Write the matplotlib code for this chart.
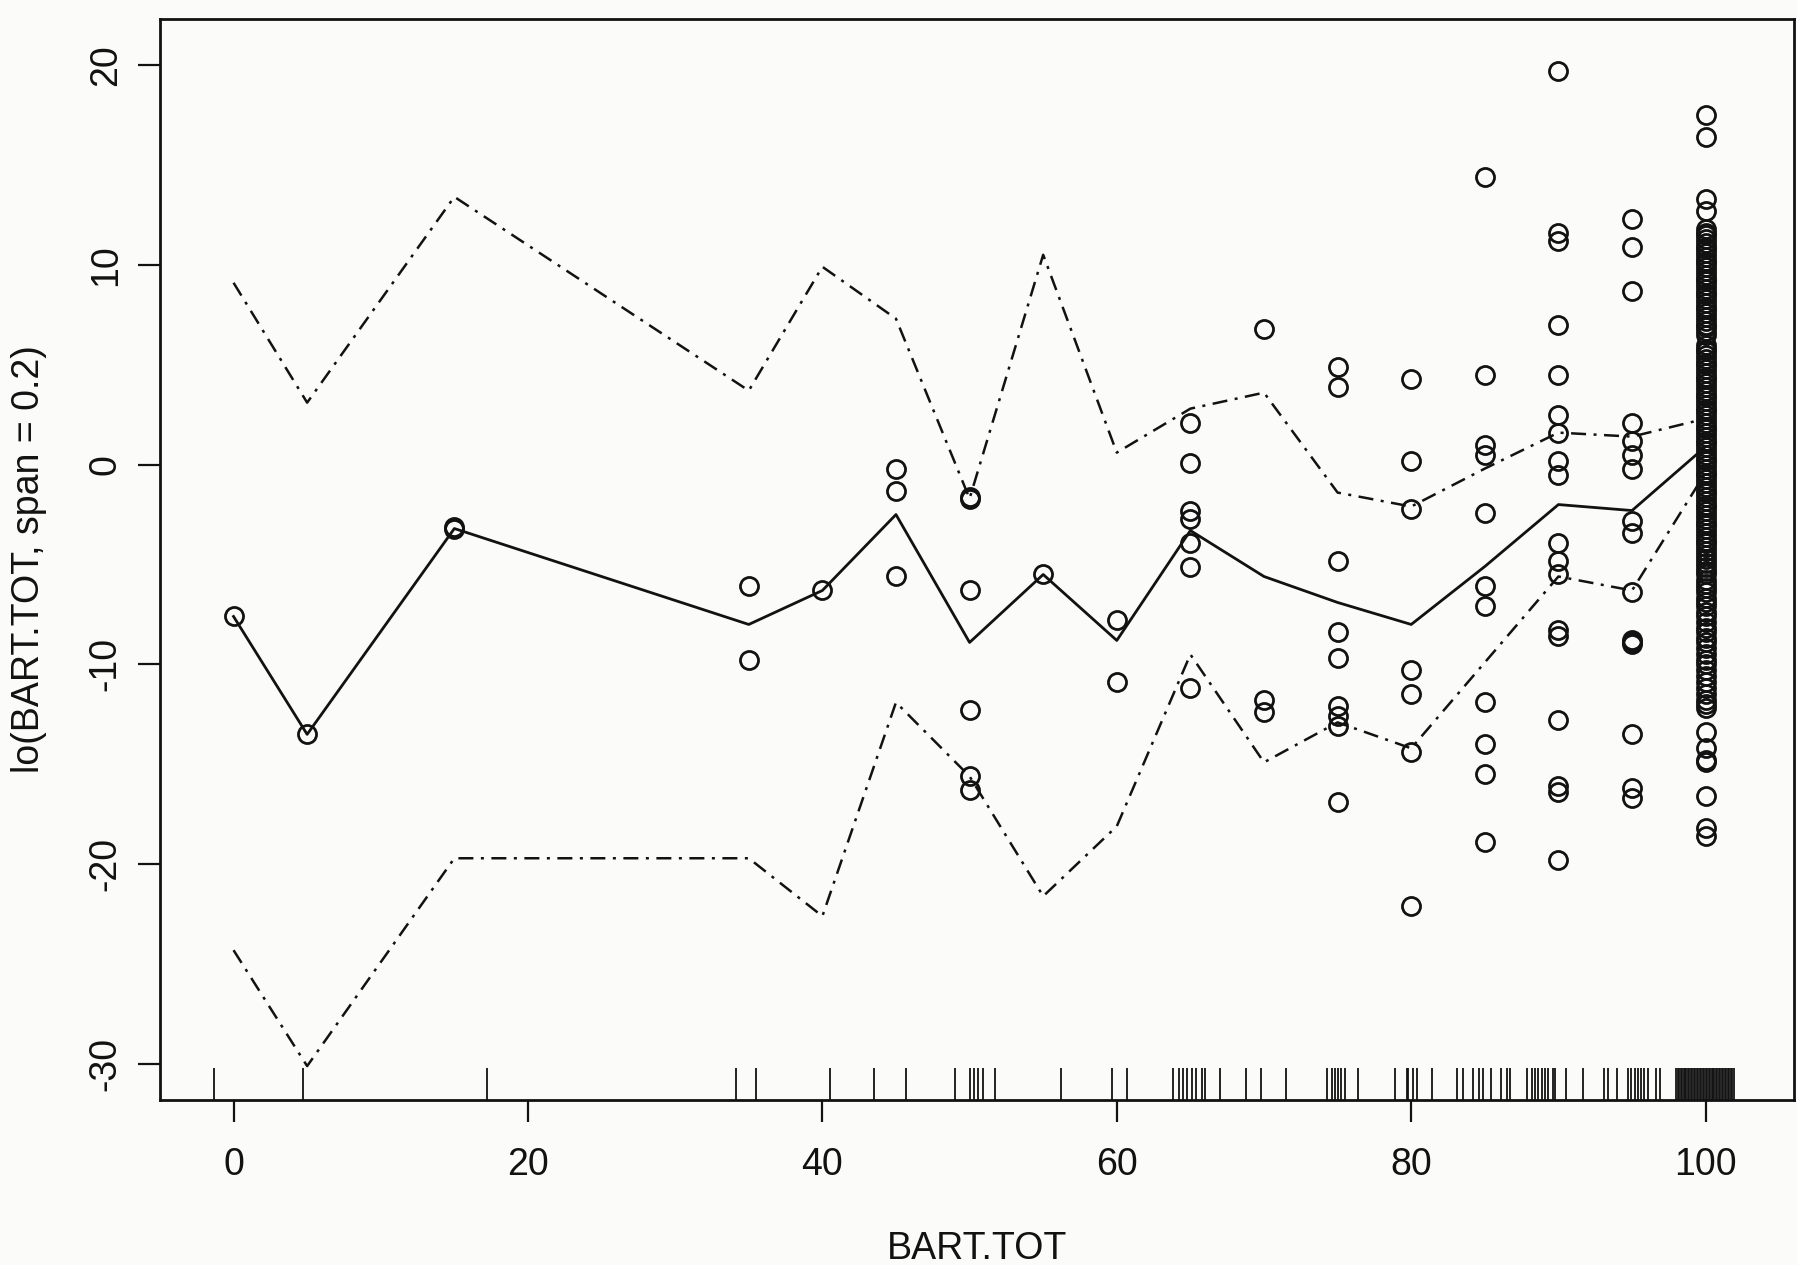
import matplotlib
matplotlib.use("Agg")
import matplotlib.pyplot as plt

plt.rcParams['font.family'] = ['Liberation Sans', 'DejaVu Sans']
plt.rcParams['axes.unicode_minus'] = False

# ---- data ----
levels = [0, 5, 15, 35, 40, 45, 50, 55, 60, 65, 70, 75, 80, 85, 90, 95, 100]
fit    = [-7.6, -13.5, -3.2, -8.0, -6.3, -2.5, -8.9, -5.5, -8.8, -3.3, -5.6, -6.9, -8.0, -5.1, -2.0, -2.3, 0.9]
upper  = [9.1, 3.1, 13.4, 3.7, 9.9, 7.3, -1.7, 10.5, 0.6, 2.8, 3.6, -1.4, -2.1, -0.2, 1.6, 1.4, 2.3]
lower  = [-24.3, -30.1, -19.7, -19.7, -22.6, -11.9, -15.6, -21.6, -18.1, -9.5, -14.9, -12.9, -14.2, -9.9, -5.6, -6.3, -0.4]

res_x0   = [-7.6]
res_x5   = [-13.5]
res_x15  = [-3.2, -3.1]
res_x35  = [-6.1, -9.8]
res_x40  = [-6.3]
res_x45  = [-0.2, -1.3, -5.6]
res_x50  = [-1.6, -1.7, -6.3, -12.3, -15.6, -16.3]
res_x55  = [-5.5]
res_x60  = [-7.8, -10.9]
res_x65  = [2.1, 0.1, -2.3, -2.7, -3.9, -5.1, -11.2]
res_x70  = [6.8, -11.8, -12.4]
res_x75  = [4.9, 3.9, -4.8, -8.4, -9.7, -12.1, -12.6, -13.1, -16.9]
res_x80  = [4.3, 0.2, -2.2, -10.3, -11.5, -14.4, -22.1]
res_x85  = [14.4, 4.5, 1.0, 0.5, -2.4, -6.1, -7.1, -11.9, -14.0, -15.5, -18.9]
res_x90  = [19.7, 11.6, 11.2, 7.0, 4.5, 2.5, 1.6, 0.2, -0.5, -3.9, -4.8, -5.5,
            -8.3, -8.6, -12.8, -16.1, -16.4, -19.8]
res_x95  = [12.3, 10.9, 8.7, 2.1, 1.2, 0.5, -0.2, -2.8, -3.4, -6.4, -8.8, -8.9,
            -9.0, -13.5, -16.2, -16.7]
res_x100 = [17.5, 16.4, 13.3, 12.7,
            11.8, 11.6, 11.5, 11.3, 11.1, 10.9, 10.8, 10.6, 10.4, 10.2, 10.1,
            9.9, 9.7, 9.5, 9.3, 9.2, 9.0, 8.8, 8.6, 8.5, 8.3, 8.1, 7.9, 7.8,
            7.6, 7.4, 7.2, 7.0, 6.9, 6.7, 6.5,
            6.0, 5.8, 5.7, 5.5, 5.3, 5.1, 5.0, 4.8, 4.6, 4.4, 4.3, 4.1, 3.9,
            3.7, 3.5, 3.4, 3.2, 3.0, 2.8, 2.7, 2.5, 2.3, 2.1, 1.9, 1.8, 1.6,
            1.4, 1.2, 1.1, 0.9, 0.7, 0.5, 0.3, 0.2, 0.0, -0.2, -0.4, -0.5,
            -0.7, -0.9, -1.1, -1.3, -1.4, -1.6, -1.8, -2.0, -2.1, -2.3, -2.5,
            -2.7, -2.9, -3.0, -3.2, -3.4, -3.6, -3.8, -3.9, -4.1, -4.3, -4.5,
            -4.7, -4.9, -5.1, -5.3, -5.5, -5.8, -6.0, -6.2, -6.4, -6.7, -6.9,
            -7.1, -7.4, -7.6, -7.9, -8.2, -8.4, -8.7, -8.9, -9.2, -9.5, -9.8,
            -10.0, -10.3, -10.6, -10.9, -11.2, -11.5, -11.8, -12.0, -12.2,
            -13.4, -14.2, -14.8, -14.9, -16.6, -18.2, -18.6]

rug_x = [-1.3, 4.75, 17.2, 34.1, 35.5, 40.5, 43.5, 45.7, 49.0, 50.0, 50.3, 50.6,
         50.9, 51.7, 56.2, 59.7, 60.7, 63.8, 64.2, 64.5, 64.8, 65.1, 65.4, 65.8,
         66.0, 67.0, 68.8, 69.8, 71.5, 74.3, 74.6, 74.8, 75.0, 75.2, 75.5, 76.4,
         78.9, 79.7, 79.8, 80.1, 80.4, 81.4, 83.1, 83.5, 84.2, 84.6, 84.9, 85.4,
         86.1, 86.5, 86.7, 87.9, 88.2, 88.4, 88.6, 88.9, 89.1, 89.3, 89.6, 89.8,
         90.5, 91.7, 93.1, 93.4, 94.0, 94.7, 94.9, 95.2, 95.4, 95.6, 95.8, 96.1,
         96.6, 96.9,
         98.0, 98.1, 98.2, 98.3, 98.4, 98.5, 98.6, 98.7, 98.8, 98.9, 99.0, 99.1,
         99.2, 99.3, 99.4, 99.5, 99.6, 99.7, 99.8, 99.9, 100.0, 100.1, 100.2,
         100.3, 100.4, 100.5, 100.6, 100.7, 100.8, 100.9, 101.0, 101.1, 101.2,
         101.3, 101.4, 101.5, 101.6, 101.7, 101.8, 101.9]

x_ticks = [0, 20, 40, 60, 80, 100]
y_ticks = [-30, -20, -10, 0, 10, 20]
x_label = "BART.TOT"
y_label = "lo(BART.TOT, span = 0.2)"

residuals = [res_x0, res_x5, res_x15, res_x35, res_x40, res_x45, res_x50, res_x55,
             res_x60, res_x65, res_x70, res_x75, res_x80, res_x85, res_x90,
             res_x95, res_x100]

# ---- figure ----
bg = '#fbfcfa'
ink = '#121212'
fig = plt.figure(figsize=(17.97, 12.65), dpi=100, facecolor=bg)
ax = fig.add_axes([0.089, 0.1304, 0.9093, 0.8546], facecolor=bg)

px, py = [], []
for lv, vals in zip(levels, residuals):
    px.extend([lv] * len(vals))
    py.extend(vals)
ax.plot(px, py, linestyle='none', marker='o', ms=13, mfc='none', mec=ink, mew=2.0)

ax.plot(levels, fit, color=ink, lw=2.0)
ds = (0, (6, 3.0, 1.2, 3.0))
ax.plot(levels, upper, color=ink, lw=1.8, linestyle=ds)
ax.plot(levels, lower, color=ink, lw=1.8, linestyle=ds)

ax.vlines(rug_x, 0, 0.03, transform=ax.get_xaxis_transform(), color=ink, lw=1.3)

ax.set_xlim(-5.0, 106.0)
ax.set_ylim(-31.8, 22.3)
ax.set_xticks(x_ticks)
ax.set_yticks(y_ticks)
ax.tick_params(axis='both', direction='out', length=16, width=1.6, colors=ink,
               labelsize=27)
ax.tick_params(axis='x', pad=18)
ax.tick_params(axis='y', pad=10)
for lbl in ax.get_yticklabels():
    lbl.set_rotation(90)
    lbl.set_va('center')
for s in ax.spines.values():
    s.set_linewidth(2.0)
    s.set_color(ink)

ax.set_xlabel(x_label, fontsize=27, color=ink)
ax.set_ylabel(y_label, fontsize=27, color=ink)
ax.xaxis.set_label_coords(0.5, -0.121)
ax.yaxis.set_label_coords(-0.069, 0.5)

fig.savefig("out.png", dpi=100, facecolor=bg)
